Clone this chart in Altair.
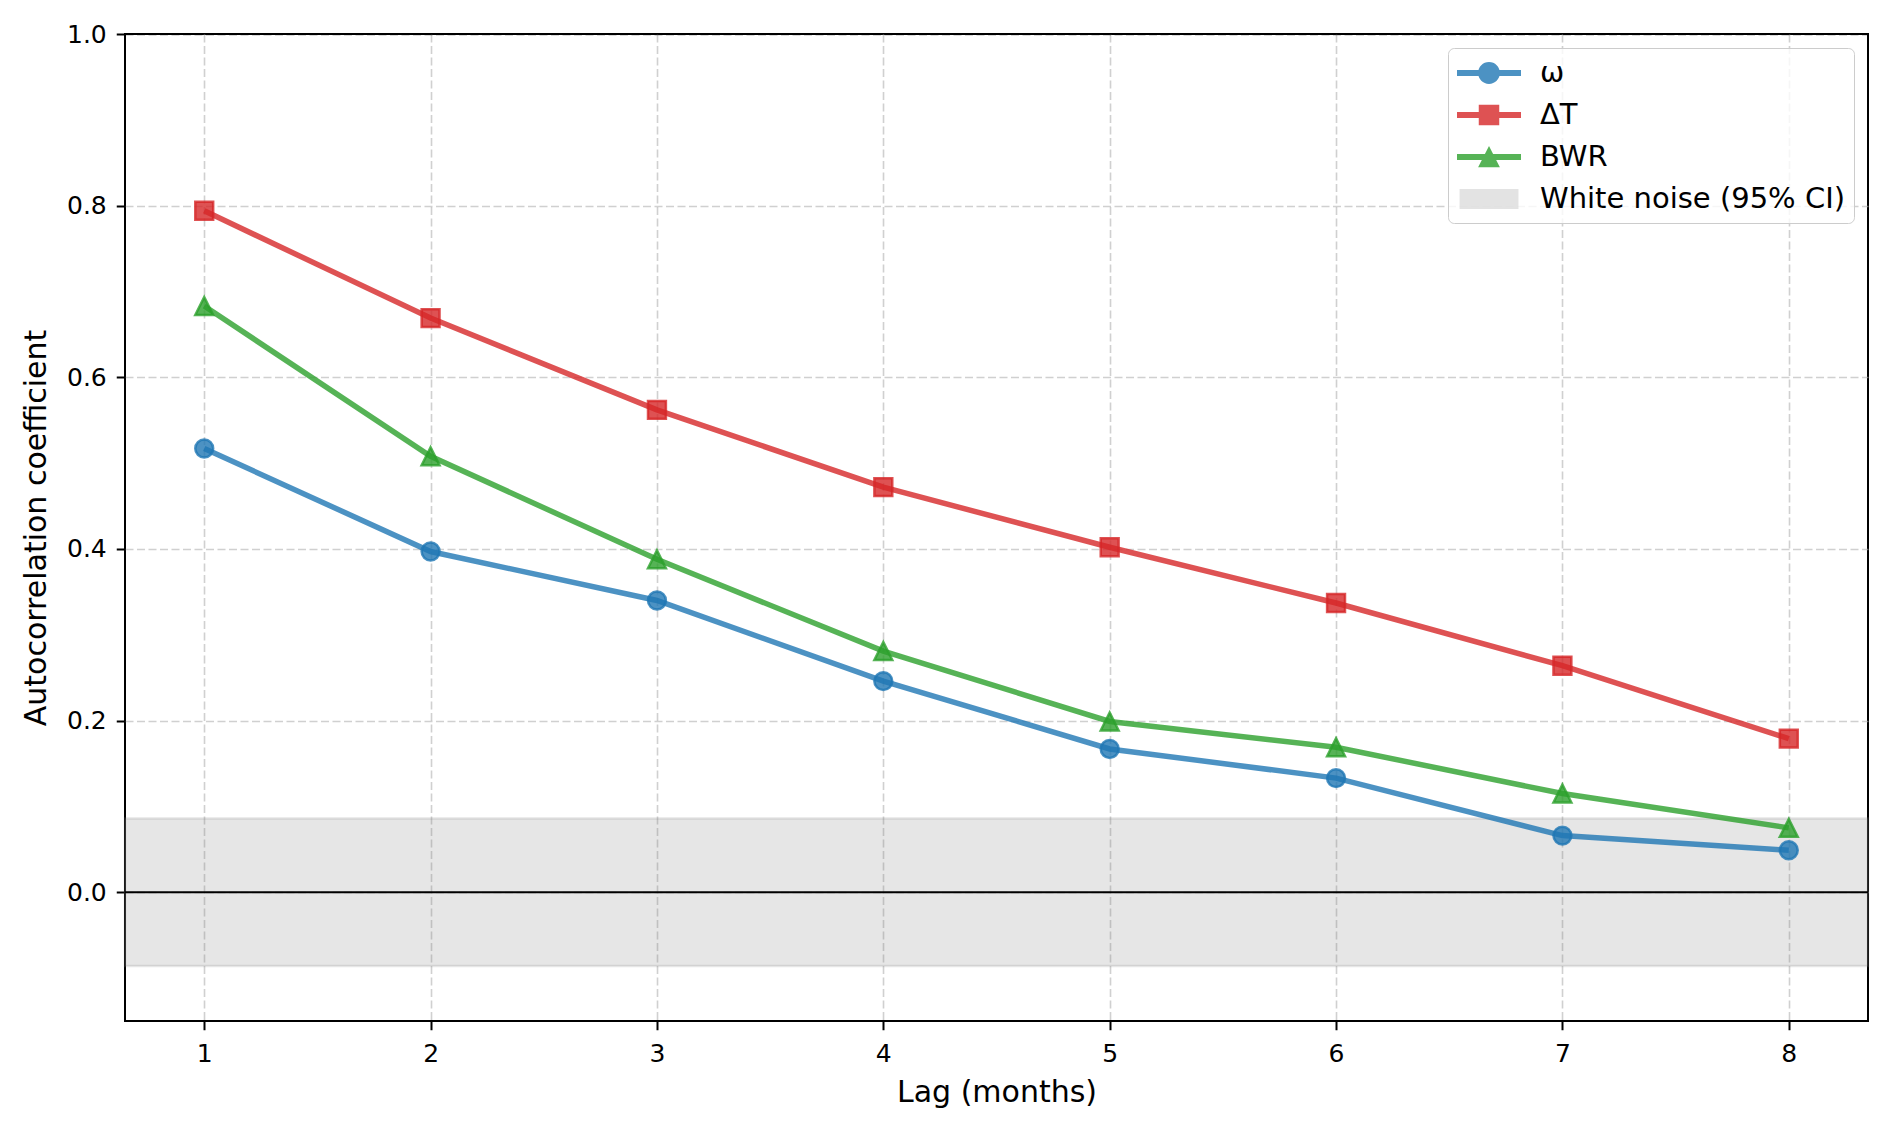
import altair as alt
import pandas as pd

# ---- data ----
lags = [1, 2, 3, 4, 5, 6, 7, 8]
omega = [0.517, 0.397, 0.340, 0.246, 0.167, 0.133, 0.066, 0.049]
delta_t = [0.794, 0.669, 0.562, 0.472, 0.402, 0.337, 0.264, 0.179]
bwr = [0.683, 0.508, 0.388, 0.281, 0.199, 0.169, 0.115, 0.075]
series_names = ["ω", "ΔT", "BWR"]
series_colors = ["#1f77b4", "#d62728", "#2ca02c"]
band_label = "White noise (95% CI)"
band_color = "#dcdcdc"
ci_bound = 0.086
y_ticks = [0.0, 0.2, 0.4, 0.6, 0.8, 1.0]
x_domain = [0.65, 8.35]
y_domain = [-0.15, 1.0]

rows = []
for name, vals in zip(series_names, [omega, delta_t, bwr]):
    for lag, v in zip(lags, vals):
        rows.append({"lag": lag, "acf": v, "series": name})
df = pd.DataFrame(rows)

band_df = pd.DataFrame({"lo": [-ci_bound], "hi": [ci_bound]})
zero_df = pd.DataFrame({"y": [0.0]})
legend_keys = series_names + [band_label]
legend_df = pd.DataFrame({"key": legend_keys})

marker_shapes = ["circle", "square", "M0,-1L1,1L-1,1Z"]
legend_paths = [
    "M-2,-0.19H2V0.19H-2Z M-0.68,0A0.68,0.68 0 1,1 0.68,0A0.68,0.68 0 1,1 -0.68,0Z",
    "M-2,-0.19H2V0.19H-2Z M-0.64,-0.64H0.64V0.64H-0.64Z",
    "M-2,-0.19H2V0.19H-2Z M0,-0.68L0.68,0.64L-0.68,0.64Z",
    "M-1.84,-0.62H1.84V0.62H-1.84Z",
]

xscale = alt.Scale(domain=x_domain, nice=False, zero=False)
yscale = alt.Scale(domain=y_domain, nice=False, zero=False)

x_axis = alt.Axis(values=lags, format="d", title="Lag (months)",
                  labelPadding=12, titlePadding=11)
y_axis = alt.Axis(values=y_ticks, format=".1f", title="Autocorrelation coefficient",
                  labelPadding=10, titlePadding=15,
                  gridColor={"condition": {"test": "datum.value >= 1", "value": "black"},
                             "value": "#b0b0b0"})

band = alt.Chart(band_df).mark_rect(
    fill="#808080", fillOpacity=0.2, stroke="#808080", strokeOpacity=0.2, strokeWidth=2.5
).encode(
    y=alt.Y("lo:Q", scale=yscale, axis=y_axis),
    y2="hi:Q",
)

zero = alt.Chart(zero_df).mark_rule(color="black", strokeWidth=2).encode(
    y=alt.Y("y:Q", scale=yscale)
)

series_color = alt.Scale(domain=series_names, range=series_colors)

lines = alt.Chart(df).mark_line(strokeWidth=5.5, opacity=0.8).encode(
    x=alt.X("lag:Q", scale=xscale, axis=x_axis),
    y=alt.Y("acf:Q", scale=yscale, axis=y_axis),
    color=alt.Color("series:N", scale=series_color, legend=None),
)

points = alt.Chart(df).mark_point(
    filled=True, fillOpacity=0.8, strokeOpacity=0.8, strokeWidth=2.5, size=320
).encode(
    x=alt.X("lag:Q", scale=xscale),
    y=alt.Y("acf:Q", scale=yscale),
    color=alt.Color("series:N", scale=series_color, legend=None),
    stroke=alt.Stroke("series:N", scale=series_color, legend=None),
    shape=alt.Shape("series:N", scale=alt.Scale(domain=series_names, range=marker_shapes), legend=None),
)

leg = alt.Legend(
    orient="top-right", offset=14, symbolSize=1024, symbolStrokeWidth=0,
    symbolOffset=16, labelOffset=35, rowPadding=11, padding=9,
    strokeColor="#cccccc", fillColor="rgba(255,255,255,0.8)", cornerRadius=6,
    labelFontSize=29, labelFont="DejaVu Sans", labelColor="black", labelLimit=600,
)

legend_layer = alt.Chart(legend_df).transform_filter("false").mark_point(
    filled=True, opacity=0.8
).encode(
    color=alt.Color("key:N", scale=alt.Scale(domain=legend_keys, range=series_colors + [band_color]),
                    title=None, legend=leg),
    shape=alt.Shape("key:N", scale=alt.Scale(domain=legend_keys, range=legend_paths),
                    title=None, legend=leg),
)

chart = alt.layer(band, zero, lines, points, legend_layer).resolve_scale(
    color="independent", shape="independent", stroke="independent"
).properties(
    width=1743, height=987,
    autosize=alt.AutoSizeParams(type="none"),
    padding={"left": 117, "top": 26, "right": 16, "bottom": 90},
).configure(
    font="DejaVu Sans"
).configure_axis(
    labelFont="DejaVu Sans", labelFontSize=25, labelColor="black",
    titleFont="DejaVu Sans", titleFontSize=30, titleColor="black", titleFontWeight="normal",
    tickColor="black", tickSize=8.75, tickWidth=2,
    domain=False, labelFlush=False, labelOverlap=False,
    grid=True, gridColor="#b0b0b0", gridOpacity=0.6, gridWidth=1.6, gridDash=[8, 3.5],
).configure_view(
    stroke="black", strokeWidth=2
)

chart.save("out.html", embed_options={"renderer": "svg", "actions": False})
